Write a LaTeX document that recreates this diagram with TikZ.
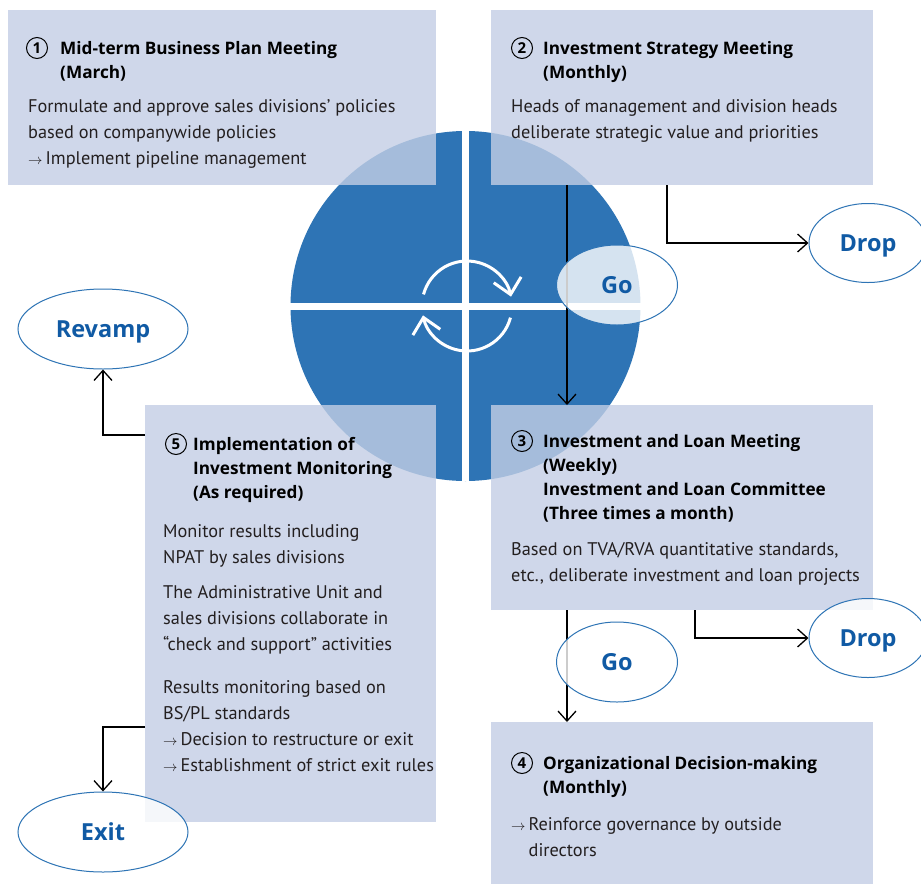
\documentclass[tikz,border=0pt]{standalone}
\usepackage{fontspec}
\setmainfont{PT Sans}
\newfontfamily\headfont{Open Sans}
\usetikzlibrary{arrows.meta, positioning, shapes.geometric}

\definecolor{hubblue}{RGB}{46,116,181}
\definecolor{panelfill}{RGB}{195,206,229}
\definecolor{tagblue}{RGB}{16,90,164}
\definecolor{bodytext}{RGB}{35,31,32}

\newcommand{\nextstep}{{\fontsize{15}{15}\selectfont$\rightarrow$}\,}

\begin{document}
\begin{tikzpicture}[x=1pt, y=-1pt,
        every node/.style={font=\fontsize{18.3}{26}\selectfont, text=bodytext},
        panel/.style={fill=panelfill, fill opacity=0.8, anchor=north west, inner sep=0pt},
        head/.style={font=\headfont\bfseries\fontsize{17.2}{24}\selectfont, text=black, align=left, anchor=base west, inner sep=0pt},
        body/.style={align=left, anchor=base west, inner sep=0pt},
        num/.style={circle, draw=black, line width=1pt, inner sep=0pt, minimum size=21pt, font=\headfont\bfseries\fontsize{15}{15}\selectfont, text=black},
        tag/.style={ellipse, draw=hubblue, line width=1pt, fill=white, fill opacity=0.8, text opacity=1, inner sep=0pt, text height=17pt, text depth=0pt, text=tagblue, font=\headfont\bfseries\fontsize{23.5}{24}\selectfont},
        arrow/.style={-{Straight Barb[length=10pt, width=18pt]}, line width=1.3pt},
        turn/.style={-{Straight Barb[length=15pt, width=28pt]}, white, line width=3pt},
        cross/.style={white, line width=7pt}
      ]
        \path[use as bounding box, fill=white] (0,0) rectangle (921,884);

        % the cycle in the middle
        \node[circle, fill=hubblue, minimum size=350pt, inner sep=0pt] (hub) at (465.5,306) {};
        \draw[cross] (hub.north) -- (hub.south);
        \draw[cross] (hub.west) -- (hub.east);
        \begin{scope}[shift={(467,306)}]
          \draw[turn] (165:45pt) arc[start angle=165, end angle=12, radius=45pt];
          \draw[turn] (-15:45pt) arc[start angle=-15, end angle=-168, radius=45pt];
        \end{scope}

        % meeting panels
        \node[panel, minimum width=428pt, minimum height=175pt] (plan) at (8,10) {};
        \node[panel, minimum width=382pt, minimum height=175pt] (strategy) at (491,10) {};
        \node[panel, minimum width=382pt, minimum height=205pt] (loan) at (491,405) {};
        \node[panel, minimum width=382pt, minimum height=162pt] (decision) at (491,722) {};
        \node[panel, minimum width=291pt, minimum height=417pt] (monitor) at (145,405) {};

        % outcomes
        \node[tag, minimum width=118pt, minimum height=79pt] (dropA) at (868,243) {Drop};
        \node[tag, minimum width=118pt, minimum height=79pt] (dropB) at (868,638) {Drop};
        \node[tag, minimum width=170pt, minimum height=80pt] (revamp) at (103,329) {Revamp};
        \node[tag, minimum width=170pt, minimum height=80pt] (exit) at (103,832) {Exit};

        \draw[arrow] ([xshift=76pt]strategy.south west) -- ([xshift=76pt]loan.north west);
        \draw[arrow] ([xshift=176pt]strategy.south west) |- (dropA.west);
        \draw[arrow] ([xshift=76pt]loan.south west) -- ([xshift=76pt]decision.north west);
        \draw[arrow] ([xshift=204pt]loan.south west) |- (dropB.west);
        \draw[arrow] ([yshift=-30pt]monitor.north west) -| (revamp.south);
        \draw[arrow] ([yshift=-322pt]monitor.north west) -| (exit.north);

        \node[tag, minimum width=121pt, minimum height=80pt] (goA) at (617,285) {Go};
        \node[tag, minimum width=121pt, minimum height=80pt] (goB) at (617,662) {Go};

        % panel texts (anchored on the last line's baseline)
        \node[num] (plan-num) at (37,48) {1};
        \node[head] (plan-head) at (60,78) {Mid-term Business Plan Meeting\\(March)};
        \node[body] (plan-body) at (28,164) {Formulate and approve sales divisions’ policies\\based on companywide policies\\\nextstep Implement pipeline management};

        \node[num] (strategy-num) at (522,48) {2};
        \node[head] (strategy-head) at (543,78) {Investment Strategy Meeting\\(Monthly)};
        \node[body] (strategy-body) at (511,138) {Heads of management and division heads\\deliberate strategic value and priorities};

        \node[num] (loan-num) at (522,441) {3};
        \node[head] (loan-head) at (543,519) {Investment and Loan Meeting\\(Weekly)\\Investment and Loan Committee\\(Three times a month)};
        \node[body] (loan-body) at (511,581) {Based on TVA/RVA quantitative standards,\\etc., deliberate investment and loan projects};

        \node[num] (decision-num) at (522,763) {4};
        \node[head] (decision-head) at (543,793) {Organizational Decision-making\\(Monthly)};
        \node[body] (decision-body) at (511,856) {\nextstep Reinforce governance by outside\\\phantom{\nextstep}directors};

        \node[num] (monitor-num) at (176,444) {5};
        \node[head] (monitor-head) at (193,498) {Implementation of\\Investment Monitoring\\(As required)};
        \node[body] (monitor-body) at (163,771) {Monitor results including\\NPAT by sales divisions\\[9pt]
          The Administrative Unit and\\sales divisions collaborate in\\“check and support” activities\\[17pt]
          Results monitoring based on\\BS/PL standards\\\nextstep Decision to restructure or exit\\\nextstep Establishment of strict exit rules};
      \end{tikzpicture}
\end{document}
